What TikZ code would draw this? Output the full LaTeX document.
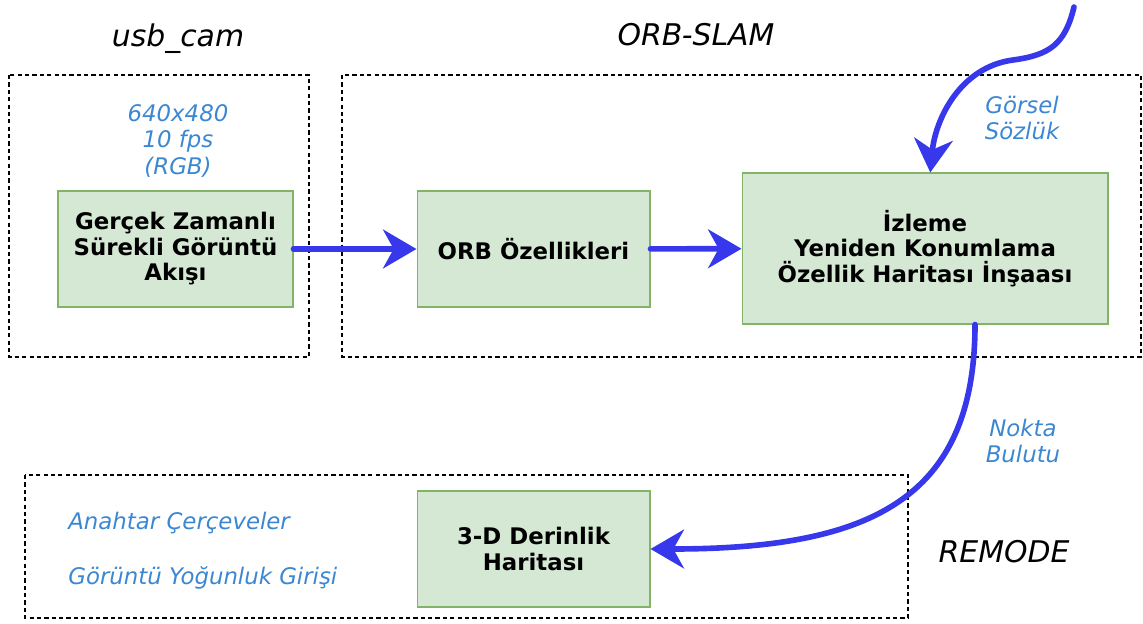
\documentclass[tikz,border=0pt]{standalone}
\usepackage{fontspec}
\setmainfont{DejaVu Sans}
\usepackage{tikz}
\usetikzlibrary{calc,arrows.meta}

\definecolor{boxgreen}{HTML}{D5E8D4}
\definecolor{boxedge}{HTML}{82B366}
\definecolor{flowblue}{RGB}{55,55,235}
\definecolor{noteblue}{RGB}{60,135,210}

\begin{document}
\begin{tikzpicture}[x=0.02cm, y=-0.02cm,
    block/.style={draw=boxedge, fill=boxgreen, line width=0.6pt, align=center, inner sep=0pt,
        font=\fontsize{13}{14.5}\selectfont\bfseries},
    group/.style={draw=black, line width=0.6pt, dash pattern=on 2.4pt off 1.8pt},
    title/.style={font=\fontsize{17}{20}\selectfont\itshape, anchor=base},
    note/.style={font=\fontsize{13}{15}\selectfont\itshape, text=noteblue, align=center, inner sep=0pt},
    flow/.style={draw=flowblue, line width=3.2pt, line cap=round, -{Stealth[length=19pt,width=22pt,inset=6pt]}}]

        \useasboundingbox (0,0) rectangle (1143,623);

        %groups
        \draw[group] (9,75) rectangle (309,357);
        \draw[group] (342,75) rectangle (1141,357);
        \draw[group] (25,475) rectangle (908,618);

        %titles
        \node[title] (tcam) at (178,46) {usb\_cam};
        \node[title] (tslam) at (696,45) {ORB-SLAM};
        \node[title] (tremode) at (1004,562) {REMODE};

        %blocks
        \node[block, minimum width=4.7cm, minimum height=2.32cm] (stream) at (175.5,249)
        {Gerçek Zamanlı\\Sürekli Görüntü\\Akışı};
        \node[block, minimum width=4.66cm, minimum height=2.32cm] (orb) at (533.5,249)
        {ORB Özellikleri};
        \node[block, minimum width=7.32cm, minimum height=3.02cm] (track) at (925,248.5)
        {İzleme\\Yeniden Konumlama\\Özellik Haritası İnşaası};
        \node[block, minimum width=4.66cm, minimum height=2.32cm] (depth) at (533.5,549)
        {3-D Derinlik\\Haritası};

        %notes
        \node[note] (res) at (178,141) {640x480\\10 fps\\(RGB)};
        \node[note] (vocab) at (1022,118) {Görsel\\Sözlük};
        \node[note] (cloud) at (1023,441) {Nokta\\Bulutu};
        \node[note, anchor=west] (kf) at (68,523) {Anahtar Çerçeveler};
        \node[note, anchor=west] (dens) at (68,578) {Görüntü Yoğunluk Girişi};

        %arrows
        \coordinate (vsrc) at (1074,7);
        \coordinate (vbend) at (1013,60);
        \draw[flow] (stream) -- (orb);
        \draw[flow] (orb) -- (track);
        \draw[flow] (vsrc) .. controls +(-9,37) and +(37,-5) .. (vbend)
            .. controls +(-53,7) and +(5,-53) .. ([xshift=3pt]track.north);
        \draw[flow] ($(track.south)+(50,0)$) .. controls +(0,176) and +(218,0) .. (depth.east);

\end{tikzpicture}
\end{document}
